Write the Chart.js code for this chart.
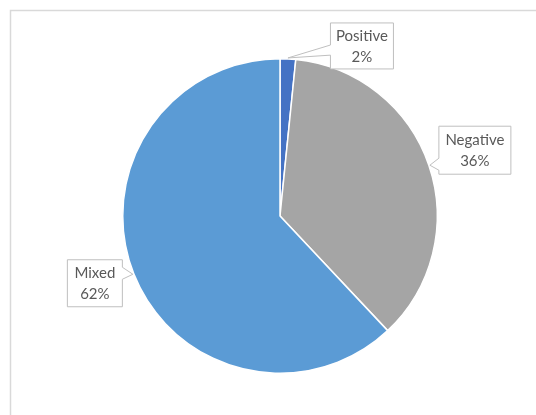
<!DOCTYPE html>
<html>
<head>
<meta charset="utf-8">
<script src="https://cdn.jsdelivr.net/npm/chart.js@4.4.0/dist/chart.umd.min.js"></script>
<style>
  html, body { margin: 0; padding: 0; background: #fff; }
  #wrap { width: 536px; height: 415px; position: relative; }
</style>
</head>
<body>
<div id="wrap"><canvas id="grafico"></canvas></div>
<script>
const categorias = ['Positive', 'Negative', 'Mixed'];
const valores = [1.6, 36.4, 62];
const colores = ['#4472C4', '#A5A5A5', '#5B9BD5'];

// posicion de cada etiqueta respecto al borde del sector (centro de la caja)
const etiquetas = [
    { dx: 74, dy: -12, w: 63, h: 46, lado: 'izq', base: [48, 70] },
    { dx: 45, dy: -15, w: 72, h: 48, lado: 'izq', base: [0, 0] },
    { dx: -38, dy: 9, w: 55, h: 47, lado: 'der', base: [0, 0] }
];

const marco = {
    id: 'marco',
    beforeDraw(chart) {
        const ctx = chart.ctx;
        ctx.save();
        ctx.strokeStyle = '#d9d9d9';
        ctx.lineWidth = 1.5;
        ctx.strokeRect(10.5, 10.5, 540, 420);
        ctx.restore();
    }
};

const llamadas = {
    id: 'llamadas',
    afterDatasetsDraw(chart) {
        const ctx = chart.ctx;
        const meta = chart.getDatasetMeta(0);
        const total = valores.reduce((a, b) => a + b, 0);
        meta.data.forEach((arc, i) => {
            const mid = (arc.startAngle + arc.endAngle) / 2;
            const r = arc.outerRadius;
            const tx = arc.x + Math.cos(mid) * (r + 1);
            const ty = arc.y + Math.sin(mid) * (r + 1);
            const e = etiquetas[i];
            const cx = tx + e.dx, cy = ty + e.dy;
            const x0 = cx - e.w / 2, x1 = cx + e.w / 2;
            const y0 = cy - e.h / 2, y1 = cy + e.h / 2;
            let b1, b2;
            if (e.base[0] || e.base[1]) {
                b1 = y0 + e.base[0] / 100 * e.h;
                b2 = y0 + e.base[1] / 100 * e.h;
            } else {
                b1 = Math.max(y0 + 2, ty - 7);
                b2 = Math.min(y1 - 2, ty + 5);
            }
            ctx.save();
            ctx.beginPath();
            if (e.lado === 'izq') {
                ctx.moveTo(x0, y0);
                ctx.lineTo(x1, y0);
                ctx.lineTo(x1, y1);
                ctx.lineTo(x0, y1);
                ctx.lineTo(x0, b2);
                ctx.lineTo(tx, ty);
                ctx.lineTo(x0, b1);
            } else {
                ctx.moveTo(x0, y0);
                ctx.lineTo(x1, y0);
                ctx.lineTo(x1, b1);
                ctx.lineTo(tx, ty);
                ctx.lineTo(x1, b2);
                ctx.lineTo(x1, y1);
                ctx.lineTo(x0, y1);
            }
            ctx.closePath();
            ctx.fillStyle = '#ffffff';
            ctx.fill();
            ctx.strokeStyle = '#bfbfbf';
            ctx.lineWidth = 1;
            ctx.stroke();

            ctx.fillStyle = '#595959';
            ctx.font = '15px Lato, sans-serif';
            ctx.textAlign = 'center';
            ctx.textBaseline = 'middle';
            const pct = Math.round(valores[i] / total * 100) + '%';
            ctx.fillText(categorias[i], cx, cy - 10);
            ctx.fillText(pct, cx, cy + 11);
            ctx.restore();
        });
    }
};

new Chart(document.getElementById('grafico'), {
    type: 'pie',
    data: {
        labels: categorias,
        datasets: [{
            data: valores,
            backgroundColor: colores,
            borderColor: '#ffffff',
            borderWidth: 1.5
        }]
    },
    options: {
        responsive: true,
        maintainAspectRatio: false,
        animation: false,
        layout: { padding: { top: 58, bottom: 41, left: 122, right: 98 } },
        plugins: {
            legend: { display: false },
            tooltip: { enabled: false }
        }
    },
    plugins: [marco, llamadas]
});
</script>
</body>
</html>
